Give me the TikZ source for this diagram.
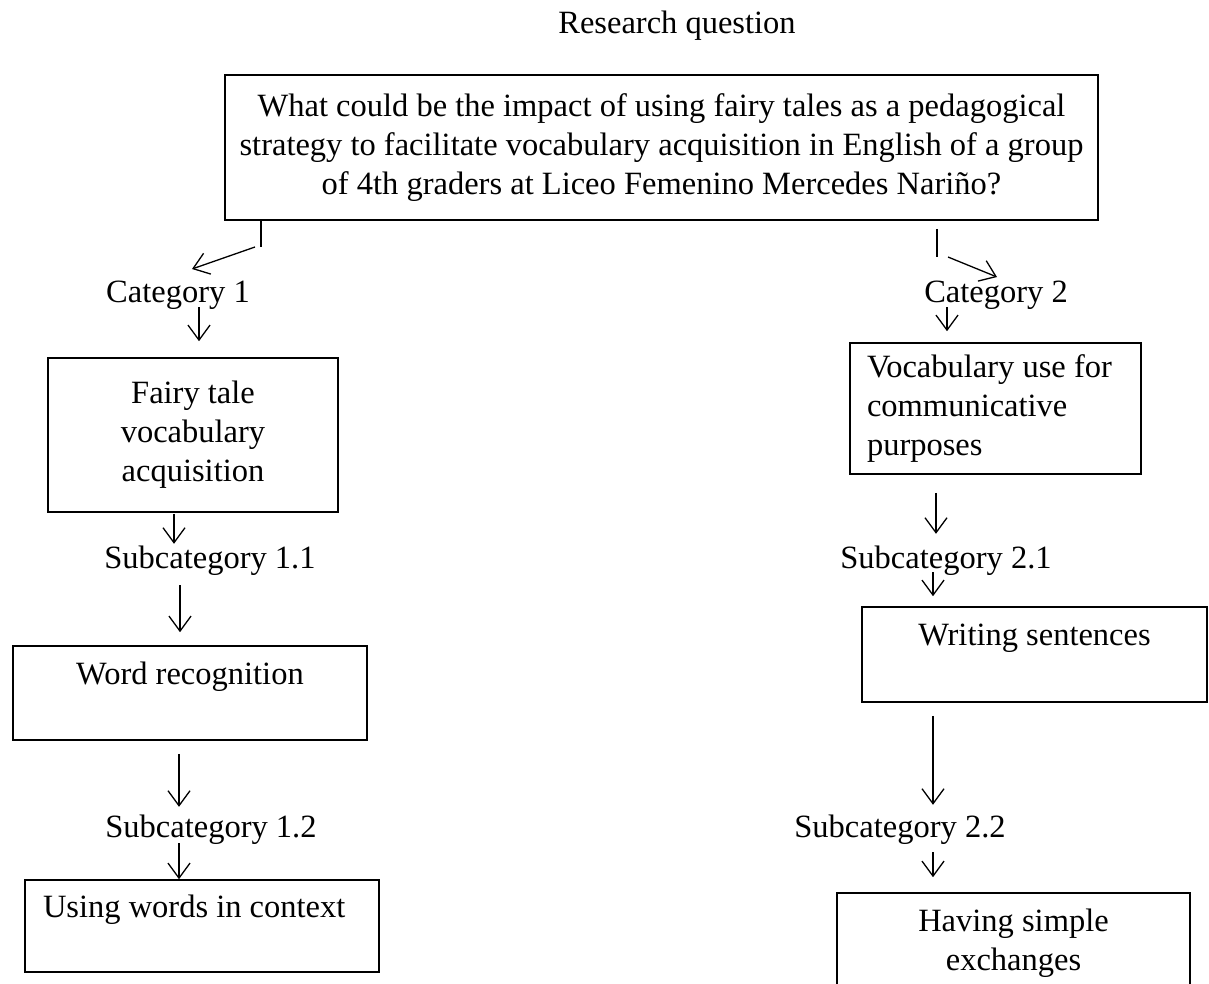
\documentclass[tikz,border=0pt]{standalone}
\usepackage{fontspec}
\setmainfont{Liberation Serif}
\usetikzlibrary{arrows.meta}
\tikzset{
  catbox/.style={draw, line width=1.6pt, inner sep=6pt, align=center},
  lbl/.style={inner sep=0pt, text height=23pt, text depth=7pt},
  arr/.style={line width=1.3pt, -{Straight Barb[length=15pt,width=22pt]}},
}
\begin{document}
\begin{tikzpicture}[x=1pt, y=-1pt, font=\fontsize{32.5}{39}\selectfont]
\useasboundingbox (0,0) rectangle (1209,983);
% research question
\node[lbl] (rq) at (677,25) {Research question};
\node[catbox, minimum width=873pt, minimum height=145pt] (rqbox) at (661.5,147.5)
  {What could be the impact of using fairy tales as a pedagogical\\
   strategy to facilitate vocabulary acquisition in English of a group\\
   of 4th graders at Liceo Femenino Mercedes Nariño?};
% left column
\node[lbl] (cat1) at (178,294) {Category 1};
\node[catbox, minimum width=290pt, minimum height=154pt] (fairy) at (193,435) {Fairy tale\\vocabulary\\acquisition};
\node[lbl] (sub11) at (210,560) {Subcategory 1.1};
\node[catbox, minimum width=354pt, minimum height=94pt] (word) at (190,693) {Word recognition\\ \mbox{}};
\node[lbl] (sub12) at (211,829) {Subcategory 1.2};
\node[catbox, minimum width=354pt, minimum height=92pt, align=flush left, text width=318pt] (ctx) at (202,926) {Using words in context\\ \mbox{}};
% right column
\node[lbl] (cat2) at (996,294) {Category 2};
\node[catbox, minimum width=291pt, minimum height=131pt, align=flush left, text width=257pt] (vocab) at (995.5,408.5) {Vocabulary use for\\communicative\\purposes};
\node[lbl] (sub21) at (946,560) {Subcategory 2.1};
\node[catbox, minimum width=345pt, minimum height=95pt] (writing) at (1034.5,654.5) {Writing sentences\\ \mbox{}};
\node[lbl] (sub22) at (900,829) {Subcategory 2.2};
\node[catbox, minimum width=353pt, minimum height=100pt] (having) at (1013.5,943) {Having simple\\exchanges};
% split from the question
\coordinate (stubL) at (261,247);
\coordinate (tipL) at (192,269);
\coordinate (stubR) at (937,257);
\coordinate (tipR) at (997,277);
\draw[line width=1.3pt] ([xshift=-400.5pt]rqbox.south) -- (stubL);
\draw[arr] ([xshift=-6pt]stubL) -- (tipL);
\draw[line width=1.3pt, shorten <=8pt] ([xshift=275.5pt]rqbox.south) -- (stubR);
\draw[arr] ([xshift=11pt]stubR) -- (tipR);
% left arrows
\draw[arr, shorten <=-2pt, shorten >=16pt] ([xshift=21pt]cat1.south) -- ([xshift=6pt]fairy.north);
\draw[arr, shorten <=1pt, shorten >=1pt] ([xshift=-19pt]fairy.south) -- ([xshift=-36pt]sub11.north);
\draw[arr, shorten <=10pt, shorten >=13pt] ([xshift=-30pt]sub11.south) -- ([xshift=-10pt]word.north);
\draw[arr, shorten <=13pt, shorten >=7pt] ([xshift=-11pt]word.south) -- ([xshift=-32pt]sub12.north);
\draw[arr, shorten <=-1pt] ([xshift=-32pt]sub12.south) -- ([xshift=-23pt]ctx.north);
% right arrows
\draw[arr, shorten <=-2pt, shorten >=11pt] ([xshift=-49pt]cat2.south) -- ([xshift=-48.5pt]vocab.north);
\draw[arr, shorten <=18pt, shorten >=11pt] ([xshift=-59.5pt]vocab.south) -- ([xshift=-10pt]sub21.north);
\draw[arr, shorten <=-3pt, shorten >=10pt] ([xshift=-13pt]sub21.south) -- ([xshift=-101.5pt]writing.north);
\draw[arr, shorten <=13pt, shorten >=9pt] ([xshift=-101.5pt]writing.south) -- ([xshift=33pt]sub22.north);
\draw[arr, shorten <=8pt, shorten >=15pt] ([xshift=33pt]sub22.south) -- ([xshift=-80.5pt]having.north);
\end{tikzpicture}
\end{document}
